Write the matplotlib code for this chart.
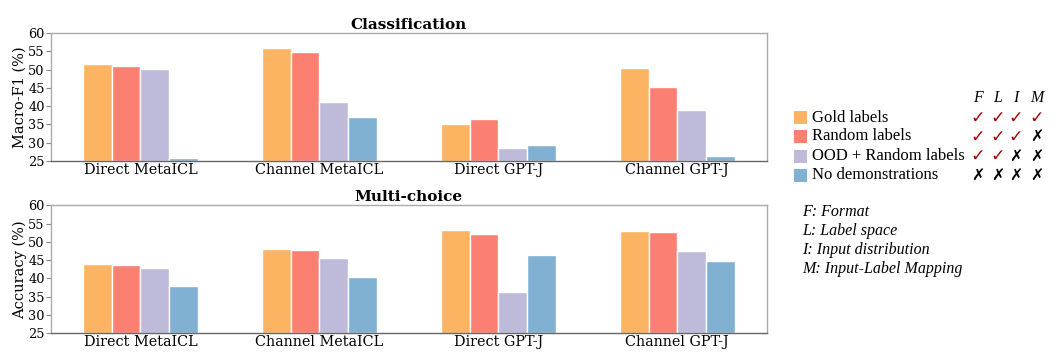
import matplotlib
matplotlib.use("Agg")
import matplotlib.pyplot as plt
from matplotlib.patches import Rectangle
import numpy as np

groups = ["Direct MetaICL", "Channel MetaICL", "Direct GPT-J", "Channel GPT-J"]
series = ["Gold labels", "Random labels", "OOD + Random labels", "No demonstrations"]
colors = ["#fdb462", "#fb8072", "#bebada", "#80b1d3"]

cls_gold = [51.5, 55.8, 35.0, 50.4]
cls_random = [51.0, 54.8, 36.4, 45.3]
cls_ood = [50.2, 41.0, 28.5, 38.9]
cls_none = [25.8, 37.0, 29.3, 26.4]

mc_gold = [43.9, 48.0, 53.2, 52.9]
mc_random = [43.7, 47.9, 52.2, 52.7]
mc_ood = [42.9, 45.5, 36.4, 47.6]
mc_none = [37.9, 40.4, 46.5, 44.7]

yticks = [25, 30, 35, 40, 45, 50, 55, 60]
header = ["F", "L", "I", "M"]
marks = [[1, 1, 1, 1], [1, 1, 1, 0], [1, 1, 0, 0], [0, 0, 0, 0]]
notes = ["F: Format", "L: Label space", "I: Input distribution", "M: Input-Label Mapping"]

fig = plt.figure(figsize=(10.62, 3.55), dpi=100)
ax1 = fig.add_axes([0.048, 0.5465, 0.674, 0.3606])
ax2 = fig.add_axes([0.048, 0.0611, 0.674, 0.3606])

serif = "DejaVu Serif"
x = np.arange(len(groups))
w = 0.16

def draw(ax, data, title, ylabel):
    for i, (vals, c) in enumerate(zip(data, colors)):
        ax.bar(x + (i - 1.5) * w, np.array(vals) - 25, bottom=25, width=w, color=c,
               edgecolor="white", linewidth=1.0)
    ax.set_xlim(-0.5, 3.5)
    ax.set_ylim(25, 60)
    ax.set_yticks(yticks)
    ax.set_yticklabels([str(t) for t in yticks], family=serif, fontsize=9.3)
    ax.set_xticks(x)
    ax.set_xticklabels(groups, family=serif, fontsize=10.4)
    ax.tick_params(axis="x", length=0, pad=1.5)
    ax.tick_params(axis="y", length=3.5, width=0.8, color="#888888", pad=1)
    ax.set_ylabel(ylabel, family=serif, fontsize=10.5)
    ax.yaxis.set_label_coords(-0.034, 0.5)
    ax.set_title(title, family=serif, fontweight="bold", fontsize=11, pad=3)
    for s in ["top", "right", "left"]:
        ax.spines[s].set_color("#aaaaaa")
    ax.spines["bottom"].set_color("#666666")
    for s in ax.spines.values():
        s.set_linewidth(1.0)

draw(ax1, [cls_gold, cls_random, cls_ood, cls_none], "Classification", "Macro-F1 (%)")
draw(ax2, [mc_gold, mc_random, mc_ood, mc_none], "Multi-choice", "Accuracy (%)")

# legend overlay in pixel coordinates
ov = fig.add_axes([0, 0, 1, 1], facecolor="none")
ov.set_xlim(0, 1062)
ov.set_ylim(355, 0)
ov.axis("off")

tfont = ["Liberation Serif", "DejaVu Serif"]
col_x = [978, 998, 1016, 1037]
row_y = [117.5, 136.5, 156, 175]
for cx, h in zip(col_x, header):
    ov.text(cx, 98, h, ha="center", va="center", family=tfont, style="italic", fontsize=11.5)
for r, (name, c) in enumerate(zip(series, colors)):
    ov.add_patch(Rectangle((794, row_y[r] - 6.5), 13, 13, facecolor=c, edgecolor="none"))
    ov.text(812, row_y[r], name, ha="left", va="center", family=tfont, fontsize=12)
    for cx, m in zip(col_x, marks[r]):
        if m:
            ov.text(cx, row_y[r], "\u2713", ha="center", va="center", family=["DejaVu Sans"],
                    fontsize=12.5, color="#a50000", style="italic", fontweight="bold")
        else:
            ov.text(cx, row_y[r], "\u2717", ha="center", va="center", family=["DejaVu Sans"],
                    fontsize=11.5, color="black", fontweight="bold")
for i, n in enumerate(notes):
    ov.text(802, 212 + i * 19, n, ha="left", va="center", family=tfont, style="italic", fontsize=11.5)

fig.savefig("out.png", dpi=100)
